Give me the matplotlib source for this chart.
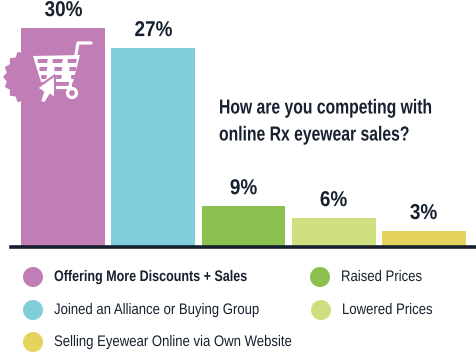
import matplotlib
matplotlib.use("Agg")
import matplotlib.pyplot as plt
from matplotlib.patches import Polygon, Circle
from matplotlib.patheffects import AbstractPathEffect
from matplotlib.transforms import Affine2D
import numpy as np

categories = ["Offering More Discounts + Sales", "Joined an Alliance or Buying Group",
              "Raised Prices", "Lowered Prices", "Selling Eyewear Online via Own Website"]
labels = ["30%", "27%", "9%", "6%", "3%"]
# drawn heights (the source bars are not to scale with their labels)
heights = [30, 27.26, 5.6, 3.97, 2.2]
colors = ["#C17DB5", "#7FCEDA", "#8CC152", "#CDDF7E", "#E5D35E"]
legend_order = [0, 2, 1, 3, 4]
legend_pos = [(33, 277, 54), (320, 277, 341), (33, 310, 54), (321, 310, 342), (33, 342, 54)]

font = "Liberation Sans"
ink = "#16202E"
W, H = 476, 354


class Squeeze(AbstractPathEffect):
    """Narrow a text horizontally about a pixel anchor (the reference face is condensed)."""
    def __init__(self, anchor_px, factor):
        super().__init__()
        self.anchor, self.factor = anchor_px, factor

    def draw_path(self, renderer, gc, tpath, affine, rgbFace=None):
        t = affine + Affine2D().translate(-self.anchor, 0).scale(self.factor, 1).translate(self.anchor, 0)
        renderer.draw_path(gc, tpath, t, rgbFace)


fig = plt.figure(figsize=(W/100, H/100), dpi=100)

# bars
ax = fig.add_axes([11/W, (H-247)/H, (W-11)/W, 247/H])
x = np.arange(len(heights))
ax.bar(x, heights, width=0.933, color=colors, zorder=2)
ax.set_xlim(-0.583, 4.583)
ax.set_ylim(0, 33.84)
ax.set_xticks([]); ax.set_yticks([])
for s in ["top", "left", "right"]:
    ax.spines[s].set_visible(False)
ax.spines["bottom"].set_linewidth(2.6)
ax.spines["bottom"].set_color(ink)
ax.patch.set_alpha(0)
centers = [63.5 + 90*i for i in x]
for xi, h, t, c in zip(x, heights, labels, centers):
    ax.annotate(t, (xi, h), xytext=(0, 5), textcoords="offset points", ha="center", va="bottom",
                fontsize=15.5, fontweight="bold", family=font, color=ink, zorder=5,
                path_effects=[Squeeze(c, 0.88)])

# overlay in pixel coordinates for the badge, title and legend
ov = fig.add_axes([0, 0, 1, 1])
ov.set_xlim(0, W); ov.set_ylim(H, 0); ov.axis("off"); ov.patch.set_alpha(0)

# scalloped badge behind the icon
n = 18
ang = np.linspace(0, 2*np.pi, 2*n, endpoint=False)
rad = np.where(np.arange(2*n) % 2 == 0, 29, 25.5)
ov.add_patch(Polygon(np.c_[32+rad*np.cos(ang), 77+rad*np.sin(ang)], closed=True, fc=colors[0], ec="none", zorder=1))

# cart icon
cart = dict(color="white", lw=2.3, solid_capstyle="round", solid_joinstyle="round", zorder=6)
ov.plot([91, 78, 70], [43, 43, 87], **cart)
ov.add_patch(Polygon([(33, 56), (80, 55), (73, 82), (41, 82)], closed=True, fc="white", ec="none", zorder=6))
for y0 in (59, 67, 75):
    d = (y0-56)*0.22
    for a, b in ((37, 48), (52, 63), (67, 77)):
        ov.add_patch(Polygon([(a+d, y0), (b-d*0.25, y0), (b-d*0.25-0.8, y0+4), (a+d, y0+4)],
                             closed=True, fc=colors[0], ec="none", zorder=7))
ov.plot([70, 45], [87, 87], **cart)
ov.add_patch(Circle((72, 93), 4.5, fc=colors[0], ec="white", lw=2.3, zorder=7))
ov.add_patch(Polygon([(55, 75), (37, 88), (43, 92), (40, 102), (45, 103), (50, 95), (55, 98)],
                     closed=True, fc="white", ec=colors[0], lw=1.5, zorder=8))

# title: the unsqueezed text starts at x=197 and the squeeze brings its left edge to x=219
for ty, line in ((108, "How are you competing with"), (135, "online Rx eyewear sales?")):
    ov.text(197, ty, line, fontsize=14.6, fontweight="bold", family=font, color=ink,
            va="center", ha="left", path_effects=[Squeeze(294.8, 0.775)])

# legend
for idx, (cx, cy, tx) in zip(legend_order, legend_pos):
    ov.add_patch(Circle((cx, cy), 10, fc=colors[idx], ec="none"))
    ov.text(tx, cy, categories[idx], fontsize=11, family=font, color=ink, va="center", ha="left",
            fontweight="bold" if idx == 0 else "normal",
            path_effects=[Squeeze(tx, 0.82 if idx == 0 else 0.86)])

fig.savefig("out.png", dpi=100)
